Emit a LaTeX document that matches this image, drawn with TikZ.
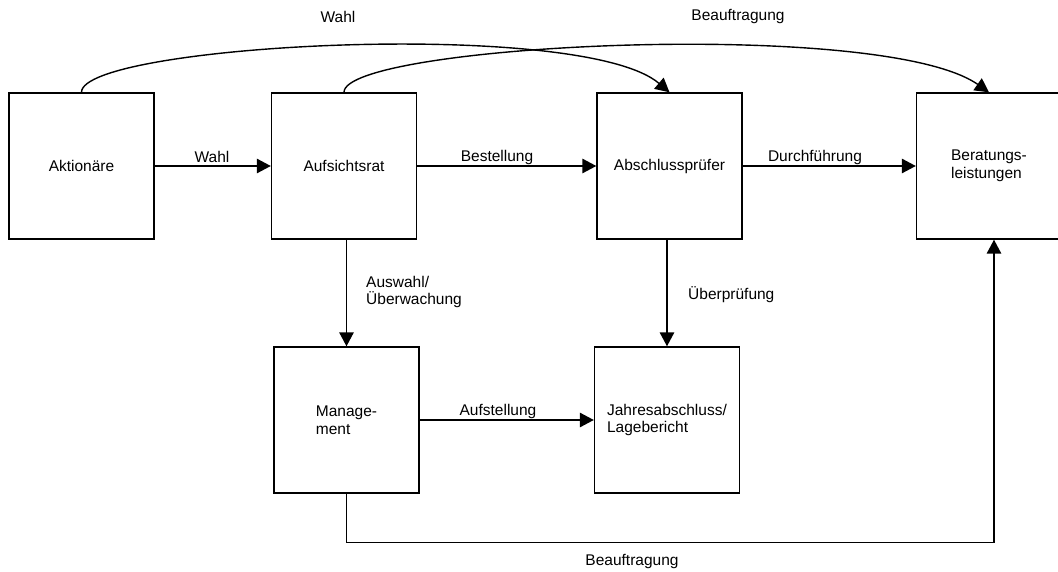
\documentclass[tikz,border=0pt]{standalone}
\usepackage{fontspec}
\setmainfont{Liberation Sans}
\usetikzlibrary{arrows.meta,calc}
\begin{document}
\begin{tikzpicture}[x=1pt,y=-1pt,
  every node/.style={font=\fontsize{15.5}{17.5}\selectfont, inner sep=0pt},
  box/.style={draw, line width=1.4pt, minimum width=145pt, minimum height=146pt, align=left},
  arr/.style={line width=1.4pt, -{Triangle[length=14pt,width=14.5pt]}},
  lbl/.style={anchor=center},
  lbll/.style={anchor=west, align=left}]
  \clip (0,0) rectangle (1058,572);

  % boxes
  \node[box] (akt) at (81.5,166) {Aktionäre};
  \node[box] (auf) at (344,166) {Aufsichtsrat};
  \node[box] (abs) at (669.5,166) {Abschlussprüfer};
  \node[box] (ber) at (989,166) {Beratungs-\\leistungen};
  \node[box] (man) at (346.5,420) {Manage-\\ment};
  \node[box] (jah) at (667,420) {Jahresabschluss/\\Lagebericht};

  % horizontal flows
  \draw[arr] (akt.east) -- (auf.west);
  \draw[arr] (auf.east) -- (abs.west);
  \draw[arr] (abs.east) -- (ber.west);
  \draw[arr] (man.east) -- (jah.west);

  % vertical flows
  \draw[arr] (man.north |- auf.south) -- (man.north);
  \draw[arr] (jah.north |- abs.south) -- (jah.north);

  % arcs over the top row
  \draw[arr] (akt.north) .. controls +(0,-48) and +(-88,-75) .. (abs.north);
  \draw[arr] (auf.north) .. controls +(0,-48) and +(-107,-75) .. (ber.north);

  % management commissions advisory services
  \coordinate (berin) at ([xshift=5pt]ber.south);
  \draw[arr] (man.south) -- ++(0,49) -| (berin);

  % labels
  \node[lbl] (l1) at (212,157) {Wahl};
  \node[lbl] (l2) at (497,157) {Bestellung};
  \node[lbl] (l3) at (815,157) {Durchführung};
  \node[lbl] (l4) at (498,411) {Aufstellung};
  \node[lbll] (l5) at (366,292) {Auswahl/\\Überwachung};
  \node[lbll] (l6) at (688,295) {Überprüfung};
  \node[lbl] (l7) at (632,561) {Beauftragung};
  \node[lbl] (l8) at (338,17) {Wahl};
  \node[lbl] (l9) at (738,17) {Beauftragung};
\end{tikzpicture}
\end{document}
